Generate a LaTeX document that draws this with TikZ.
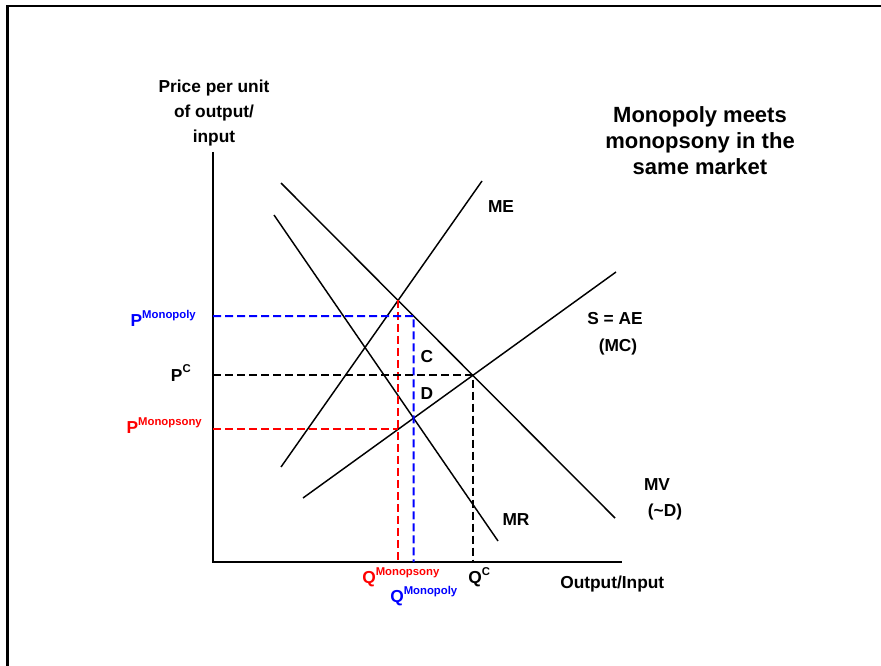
\documentclass[tikz,border=0pt]{standalone}
\usepackage{fontspec}
\setmainfont{Liberation Sans}
\usepackage{tikz}
\usetikzlibrary{calc}
\definecolor{monoblue}{RGB}{0,0,255}
\definecolor{monored}{RGB}{255,0,0}
\newcommand{\supx}[1]{\raisebox{6pt}{\fontsize{8.5}{9}\selectfont #1}}

\begin{document}
\begin{tikzpicture}[x=0.75pt, y=-0.75pt,
  curve/.style={black, line width=1.1pt},
  guide/.style={dash pattern=on 6pt off 3pt, line width=1.5pt},
  lbl/.style={font=\fontsize{13}{18.75}\selectfont\bfseries, inner sep=0pt}]
  \useasboundingbox (0,0) rectangle (881,666);
  % frame
  \draw[line width=1.8pt] (7.5,666) -- (7.5,6) -- (881,6);
  % axes
  \coordinate (o) at (213,562);
  \coordinate (ytop) at (213,152);
  \coordinate (xend) at (622,562);
  \draw[line width=1.2pt] (ytop) -- (o) -- (xend);
  % curves: ME, MV, MR, S = AE
  \coordinate (me1) at (281,467); \coordinate (me2) at (482,181);
  \coordinate (mv1) at (281,183); \coordinate (mv2) at (615,518);
  \coordinate (mr1) at (274,215); \coordinate (mr2) at (498,541);
  \coordinate (s1) at (303,498);  \coordinate (s2) at (616,272);
  \draw[curve] (me1) -- (me2);
  \draw[curve] (mv1) -- (mv2);
  \draw[curve] (mr1) -- (mr2);
  \draw[curve] (s1) -- (s2);
  % crossings
  \coordinate (ma) at (intersection of me1--me2 and mv1--mv2);
  \coordinate (mb) at (intersection of mr1--mr2 and s1--s2);
  \coordinate (mc) at (intersection of mv1--mv2 and s1--s2);
  \coordinate (max) at (ma |- o);
  \coordinate (mbx) at (mb |- o);
  \coordinate (ma2) at (intersection of s1--s2 and ma--max);
  \coordinate (mb2) at (intersection of mv1--mv2 and mb--mbx);
  % dashed guides
  \draw[guide, monored] (o |- ma2) -- (ma2);
  \draw[guide, monored] (ma) -- (max);
  \draw[guide, monoblue] (o |- mb2) -- (mb2) -- (mbx);
  \draw[guide, black] (o |- mc) -- (mc) -- (mc |- o);
  % labels
  \node[lbl, align=center] (ylbl) at (214,113) {Price per unit\\of output/\\input};
  \node[font=\fontsize{16.5}{19.5}\selectfont\bfseries, align=center] (title) at (700,141)
    {Monopoly meets\\monopsony in the\\same market};
  \node[lbl] (me) at (501,207) {ME};
  \node[lbl] (sae) at (615,319) {S = AE};
  \node[lbl] (smc) at (618,347) {(MC)};
  \node[lbl] (mv) at (657,485) {MV};
  \node[lbl] (dd) at (665,512) {(\char`\~D)};
  \node[lbl] (mr) at (516,520) {MR};
  \node[lbl] (cc) at (427,357) {C};
  \node[lbl] (dlab) at (427,394) {D};
  \node[lbl, monoblue, anchor=base east] (pmono) at (196,327) {P\supx{Monopoly}};
  \node[lbl, anchor=base east] (pc) at (191,381) {P\supx{C}};
  \node[lbl, monored, anchor=base east] (pmonops) at (202,433) {P\supx{Monopsony}};
  \node[lbl, monored, anchor=base west] (qmonops) at (362,583) {Q\supx{Monopsony}};
  \node[lbl, monoblue, anchor=base west] (qmono) at (390,602) {Q\supx{Monopoly}};
  \node[lbl, anchor=base west] (qc) at (468,583) {Q\supx{C}};
  \node[lbl, anchor=base west] (xlbl) at (560,588) {Output/Input};
\end{tikzpicture}
\end{document}
